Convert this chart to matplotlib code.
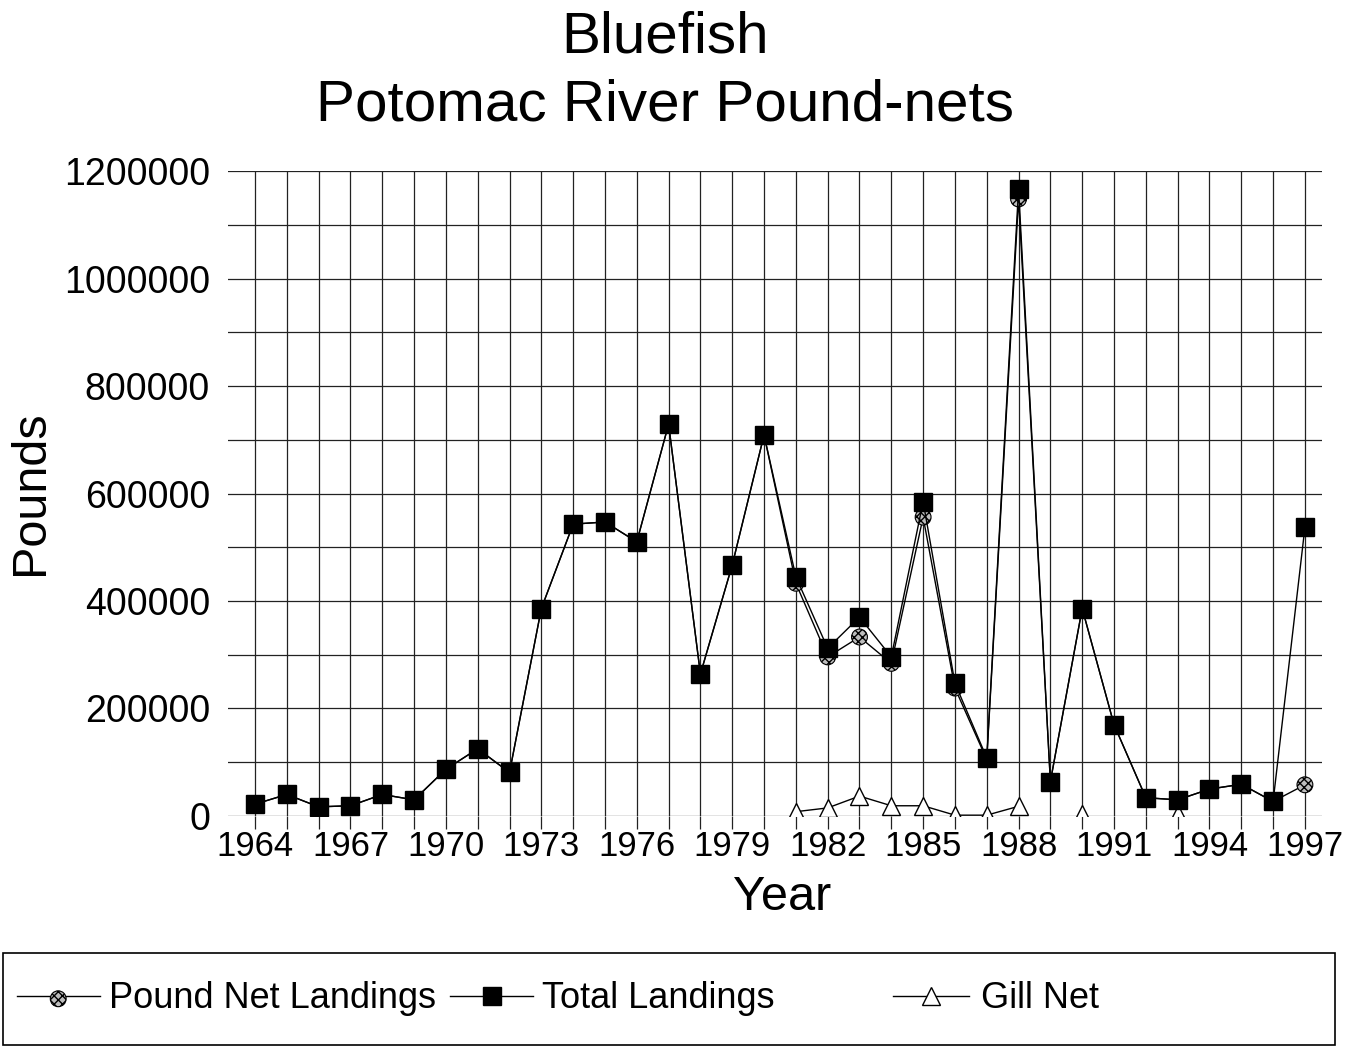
import numpy as np
import matplotlib.pyplot as plt
from matplotlib.patches import Rectangle

plt.rcParams['font.family'] = ['Liberation Sans', 'DejaVu Sans']

# Dados (libras desembarcadas por ano)
years = np.arange(1964, 1998)
total = [22000, 40000, 17000, 19000, 40000, 30000, 87000, 125000, 81000, 386000,
         543000, 547000, 510000, 729000, 264000, 467000, 709000, 445000, 312000, 370000,
         296000, 585000, 247000, 108000, 1167000, 64000, 386000, 170000, 34000, 30000,
         50000, 59000, 27000, 537000]
pound_net = [22000, 40000, 17000, 19000, 40000, 30000, 87000, 125000, 81000, 386000,
             543000, 547000, 510000, 729000, 264000, 467000, 709000, 433000, 296000, 333000,
             284000, 556000, 238000, 105000, 1148000, 64000, 386000, 170000, 34000, 30000,
             50000, 59000, 27000, 58000]
nan = np.nan
gill_net = [nan] * 17 + [8000, 15000, 37000, 19000, 19000, 1500, 1500, 18000,
                         nan, 4000, nan, nan, 3000, nan, nan, nan, nan]

fig = plt.figure(figsize=(13.65, 10.48), dpi=100)
ax = fig.add_axes([0.167, 0.2214, 0.8018, 0.6154])

# Pound net: linha + círculos hachurados
pn_line, = ax.plot(years, pound_net, color='black', linewidth=1.0, zorder=3)
pn_pts = ax.scatter(years, pound_net, s=130, marker='o', facecolor='#bdbdbd',
                    edgecolor='black', hatch='xxxx', linewidth=0.8, zorder=4)

# Gill net: triângulos brancos
gn_line, = ax.plot(years, gill_net, color='black', linewidth=1.0, marker='^',
                   markersize=13, markerfacecolor='white', markeredgecolor='black',
                   markeredgewidth=1.0, zorder=3)

# Total: quadrados pretos
tl_line, = ax.plot(years, total, color='black', linewidth=1.0, marker='s',
                   markersize=13, markerfacecolor='black', zorder=5)

ax.set_xlim(1963.15, 1997.55)
ax.set_ylim(0, 1200000)

ax.set_xticks(np.arange(1964, 1998, 3))
ax.set_xticks(np.arange(1964, 1998, 1), minor=True)
ax.set_yticks(np.arange(0, 1200001, 200000))
ax.set_yticks(np.arange(0, 1200001, 100000), minor=True)
ax.set_yticklabels([str(v) for v in range(0, 1200001, 200000)])

ax.grid(True, which='both', color='#222222', linewidth=0.9)
ax.set_axisbelow(True)
for s in ax.spines.values():
    s.set_visible(False)

ax.tick_params(axis='x', which='both', direction='out', length=9, width=0.9,
               color='#222222', pad=1, labelsize=25)
ax.tick_params(axis='y', which='both', length=0, pad=13, labelsize=27)

# Títulos e rótulos
fig.text(0.487, 0.964, 'Bluefish', ha='center', va='center', fontsize=42)
fig.text(0.487, 0.899, 'Potomac River Pound-nets', ha='center', va='center', fontsize=42)
fig.text(0.022, 0.530, 'Pounds', ha='center', va='center', rotation=90, fontsize=35)
fig.text(0.573, 0.144, 'Year', ha='center', va='center', fontsize=35)

# Legenda
fig.patches.append(Rectangle((0.002, 0.003), 0.976, 0.088, transform=fig.transFigure,
                             fill=False, edgecolor='black', linewidth=1.2))
fig.legend([(pn_line, pn_pts), tl_line], ['Pound Net Landings', 'Total Landings'],
           loc='center left', bbox_to_anchor=(-0.001, 0.047), ncol=2,
           frameon=False, fontsize=26, handlelength=2.3, handletextpad=0.25,
           columnspacing=0.4, borderpad=0, scatterpoints=1, markerscale=1.0)
fig.legend([gn_line], ['Gill Net'], loc='center left', bbox_to_anchor=(0.641, 0.047),
           frameon=False, fontsize=26, handlelength=2.1, handletextpad=0.35,
           borderpad=0, markerscale=1.0)

plt.savefig('out.png', dpi=100)
